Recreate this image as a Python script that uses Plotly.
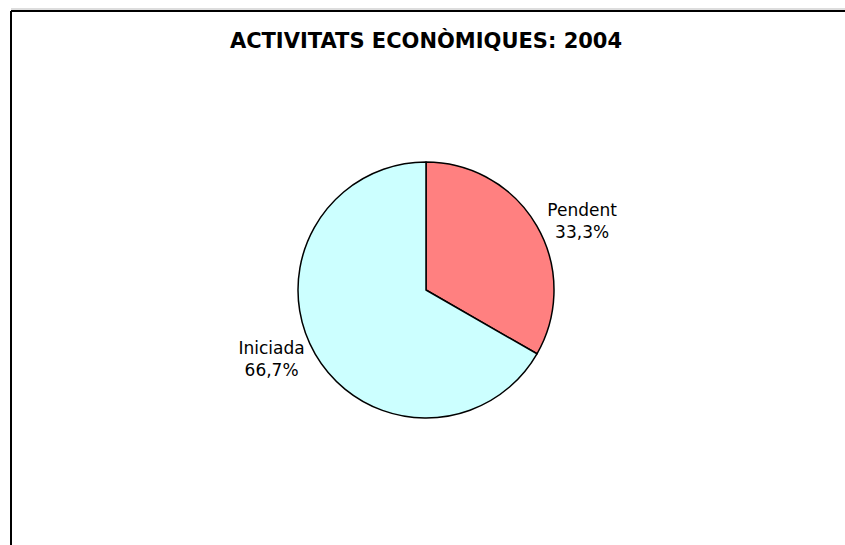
import plotly.graph_objects as go

W, H = 845, 545

title_text = "ACTIVITATS ECONÒMIQUES: 2004"
labels = ["Pendent", "Iniciada"]
values = [33.3, 66.7]
colors = ["#FF8080", "#CCFFFF"]

cx, cy, r = 426, 290, 128

fig = go.Figure(go.Pie(
    labels=labels,
    values=values,
    sort=False,
    direction="clockwise",
    rotation=0,
    marker=dict(colors=colors, line=dict(color="#000000", width=1.5)),
    textposition="outside",
    texttemplate="%{label}<br>%{percent:.1%}",
    textfont=dict(family="DejaVu Sans", size=17, color="#000000"),
    showlegend=False,
    hoverinfo="label+percent",
    domain=dict(x=[(cx - r) / W, (cx + r) / W], y=[1 - (cy + r) / H, 1 - (cy - r) / H]),
))

fig.update_layout(
    width=W, height=H,
    margin=dict(l=0, r=0, t=0, b=0),
    paper_bgcolor="white",
    plot_bgcolor="white",
    separators=",.",
    title=dict(
        text=title_text,
        x=426 / W, xanchor="center",
        y=1 - 41 / H, yanchor="middle",
        font=dict(family="DejaVu Sans", size=21, color="#000000", weight="bold"),
    ),
    shapes=[
        dict(type="line", xref="paper", yref="paper",
             x0=11 / W, x1=1, y0=1 - 9 / H, y1=1 - 9 / H,
             line=dict(color="#BBBBBB", width=1)),
        dict(type="line", xref="paper", yref="paper",
             x0=11 / W, x1=1, y0=1 - 11 / H, y1=1 - 11 / H,
             line=dict(color="#000000", width=2)),
        dict(type="line", xref="paper", yref="paper",
             x0=11 / W, x1=11 / W, y0=0, y1=1 - 11 / H,
             line=dict(color="#000000", width=2)),
    ],
)

fig.write_html(
    "out.html",
    config={"displayModeBar": False},
    post_script="document.body.style.margin='0';document.body.style.overflow='hidden';",
)
